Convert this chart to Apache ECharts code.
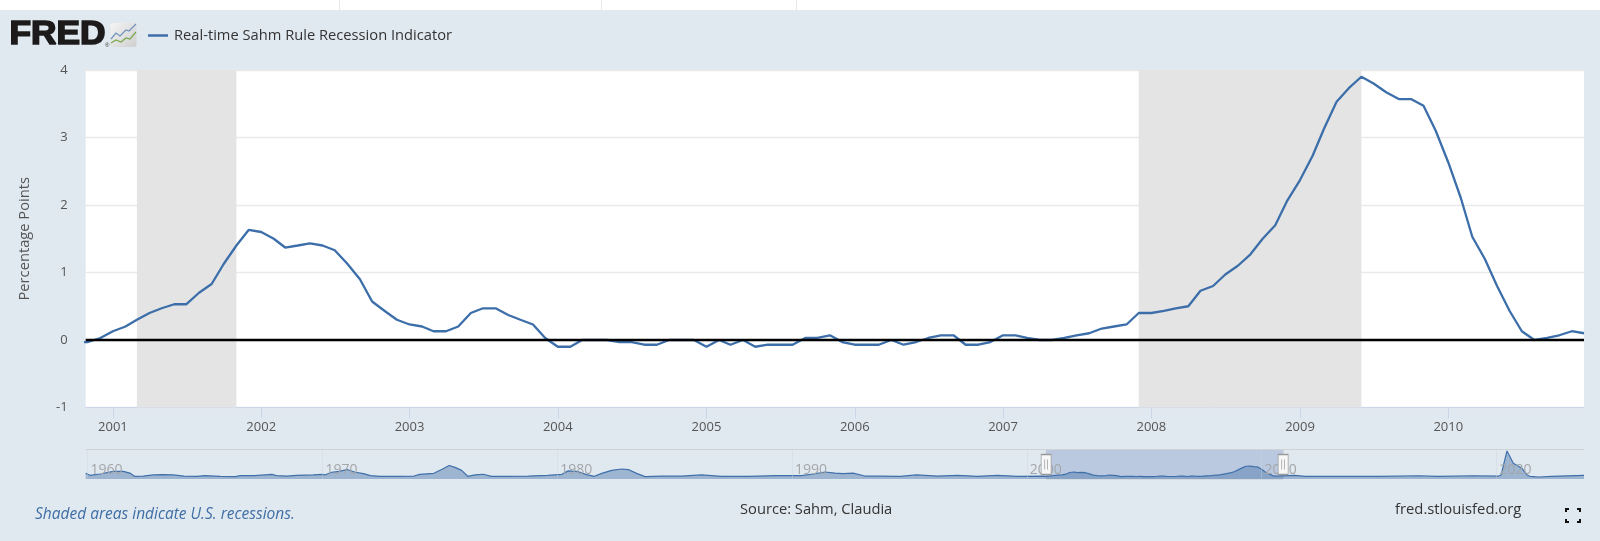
<!DOCTYPE html>
<html><head><meta charset="utf-8">
<script src="https://cdn.jsdelivr.net/npm/echarts@6/dist/echarts.min.js"></script>
<style>html,body{margin:0;padding:0;background:#e1e9f0}#c{width:1600px;height:541px}</style>
</head><body><div id="c"></div>
<script>
const seriesName = 'Real-time Sahm Rule Recession Indicator';
const tickYears = [2001,2002,2003,2004,2005,2006,2007,2008,2009,2010];
const navTickYears = [1960,1970,1980,1990,2000,2010,2020];
const recessions = [[[2001,2],[2001,10]],[[2007,11],[2009,5]]];
const v2000 = [-0.03,-0.03,0.03];
const v2001 = [0.13,0.2,0.3,0.4,0.47,0.53,0.53,0.7,0.83,1.13,1.4,1.63];
const v2002 = [1.6,1.5,1.37,1.4,1.43,1.4,1.33,1.13,0.9,0.57,0.43,0.3];
const v2003 = [0.23,0.2,0.13,0.13,0.2,0.4,0.47,0.47,0.37,0.3,0.23,0.03];
const v2004 = [-0.1,-0.1,0,0,0,-0.03,-0.03,-0.07,-0.07,0,0,0];
const v2005 = [-0.1,0,-0.07,0,-0.1,-0.07,-0.07,-0.07,0.03,0.03,0.07,-0.03];
const v2006 = [-0.07,-0.07,-0.07,0,-0.07,-0.03,0.03,0.07,0.07,-0.07,-0.07,-0.03];
const v2007 = [0.07,0.07,0.03,0,0,0.03,0.07,0.1,0.17,0.2,0.23,0.4];
const v2008 = [0.4,0.43,0.47,0.5,0.73,0.8,0.97,1.1,1.27,1.5,1.7,2.07];
const v2009 = [2.37,2.73,3.13,3.53,3.73,3.9,3.8,3.67,3.57,3.57,3.47,3.1];
const v2010 = [2.63,2.1,1.53,1.2,0.8,0.43,0.13,0,0.03,0.07,0.13,0.1];
const navBeforeYears = [1959.92,1960.1,1960.53,1961.1,1961.52,1961.8,1962,1962.37,1962.8,1963.2,1963.65,1964.1,1964.65,1965,1965.65,1966.3,1966.5,1967.1,1967.85,1968.05,1968.5,1968.9,1969.6,1970,1970.1,1970.4,1970.7,1971.05,1971.4,1971.75,1972.05,1972.45,1973.15,1973.9,1974.15,1974.75,1975.1,1975.4,1975.65,1975.93,1976.19,1976.5,1976.85,1977.2,1977.9,1978.77,1979.6,1980.2,1980.47,1980.9,1981.25,1981.58,1981.9,1982.32,1982.75,1983.03,1983.38,1983.74,1984.45,1985.3,1986.15,1987,1988.15,1989.3,1990.4,1990.9,1991.4,1991.83,1992.18,1992.6,1993.1,1993.75,1994.6,1995.3,1996.2,1997.05,1997.9,1998.75,1999.6,2000.7];
const navBeforeValues = [1.1,0.37,0.86,1.85,1.85,1.2,0,0.1,0.5,0.6,0.5,0.1,0,0.25,0,-0.1,0.25,0.25,0.7,0.25,0.1,0.35,0.5,0.7,0.5,1.5,1.85,2.5,1.5,1,0.25,0,0,0.1,0.7,1.1,2.6,4,3.3,2.2,0,0.5,0.75,0,0,0.1,0.35,0.75,2,1.7,0.6,0,1.1,2.2,2.7,2.5,1.1,-0.1,0.1,0.1,0.5,0,0,0.25,0.25,0.85,1.6,1.2,1,1.2,0.1,0.1,0,0.5,0.1,0.35,0,0.35,0,0.1];
const navAfterYears = [2011.42,2011.85,2013.3,2015,2016.7,2017.5,2019,2020.1,2020.2,2020.45,2020.72,2021.08,2021.3,2021.43,2021.8,2022.35,2023.73];
const navAfterValues = [0.35,0,0,0,0.2,0,0.2,0.1,0.5,9.4,4.8,3,0.5,0,-0.25,0,0.35];

const mainValues = [].concat(v2000,v2001,v2002,v2003,v2004,v2005,v2006,v2007,v2008,v2009,v2010);
const mainData = mainValues.map((v,i)=>[Date.UTC(2000,9+i,1),v]);
const navData = navBeforeYears.map((y,i)=>[y,navBeforeValues[i]])
  .concat(mainValues.slice(1).map((v,i)=>[2000+(10+i)/12,v]))
  .concat(navAfterYears.map((y,i)=>[y,navAfterValues[i]]));
const tickDates = tickYears.map(y=>Date.UTC(y,0,1));
const selStart = 2000+10/12-0.01, selEnd = 2010+11/12;
const FONT = '"Open Sans", sans-serif';
const handle = 'path://M0 0H10V20H0Z M3.6 5V15 M6.4 5V15';

const chart = echarts.init(document.getElementById('c'),null,{renderer:'canvas'});
chart.setOption({
  animation:false,
  backgroundColor:'#e1e9f0',
  textStyle:{fontFamily:FONT},
  legend:{left:143,top:23,icon:'rect',itemWidth:20,itemHeight:2.5,itemGap:0,data:[seriesName],
    itemStyle:{color:'#3c6ea9'},
    textStyle:{color:'#333',fontSize:14.7,fontFamily:FONT,padding:[0,0,0,1]}},
  grid:[
    {left:85.7,right:16,top:70,height:337.5,show:true,backgroundColor:'#fff',borderWidth:0},
    {left:85.7,right:16,top:449.5,height:29.5,show:false}
  ],
  xAxis:[
    {type:'value',gridIndex:0,min:Date.UTC(2000,9,26),max:Date.UTC(2010,11,1),scale:true,
      axisLine:{onZero:false,lineStyle:{color:'#ccd6eb',width:1}},
      axisTick:{show:true,length:11,customValues:tickDates,lineStyle:{color:'#ccd6eb'}},
      axisLabel:{customValues:tickDates,color:'#555',fontSize:13,margin:13,fontFamily:FONT,
        formatter:v=>String(new Date(v).getUTCFullYear())},
      splitLine:{show:false}},
    {type:'value',gridIndex:1,position:'top',min:1959.92,max:2023.73,scale:true,z:4,
      axisLine:{onZero:false,lineStyle:{color:'#cfd3d6',width:1}},
      axisTick:{show:true,inside:true,length:29,customValues:navTickYears,lineStyle:{color:'rgba(205,210,218,0.4)'}},
      axisLabel:{inside:true,customValues:navTickYears,color:'#a3a6a9',fontSize:14,margin:14,align:'left',
        padding:[0,0,0,3],fontFamily:FONT,formatter:v=>String(v)},
      splitLine:{show:false}}
  ],
  yAxis:[
    {type:'value',gridIndex:0,min:-1,max:4,interval:1,
      name:'Percentage Points',nameLocation:'middle',nameRotate:90,nameGap:53,
      nameTextStyle:{color:'#555',fontSize:14.7,fontFamily:FONT},
      axisLine:{show:false},axisTick:{show:false},
      axisLabel:{color:'#555',fontSize:13,margin:18,fontFamily:FONT},
      splitLine:{show:true,lineStyle:{color:'#e9e9e9',width:1.3}}},
    {type:'value',gridIndex:1,min:-1,max:9.93,show:false,splitLine:{show:false}}
  ],
  series:[
    {name:seriesName,type:'line',xAxisIndex:0,yAxisIndex:0,data:mainData,showSymbol:false,z:3,
      lineStyle:{color:'#3c6ea9',width:2.3},itemStyle:{color:'#3c6ea9'},clip:true,
      markArea:{silent:true,itemStyle:{color:'#e4e4e4'},
        data:recessions.map(r=>[{xAxis:Date.UTC(r[0][0],r[0][1],1)},{xAxis:Date.UTC(r[1][0],r[1][1],1)}])}},
    {name:'zero',type:'line',xAxisIndex:0,yAxisIndex:0,data:[],z:5,
      markLine:{silent:true,symbol:'none',label:{show:false},animation:false,
        lineStyle:{color:'#000',width:2.4,type:'solid'},data:[{yAxis:0}]}},
    {name:'navigator',type:'line',xAxisIndex:1,yAxisIndex:1,data:navData,showSymbol:false,z:3,
      lineStyle:{color:'#3f70aa',width:1.2},itemStyle:{color:'#3f70aa'},
      areaStyle:{color:'rgba(69,114,167,0.62)',origin:'start'},
      markArea:{silent:true,itemStyle:{color:'#bac9e0',borderColor:'#c6ccd4',borderWidth:1},
        data:[[{xAxis:selStart},{xAxis:selEnd}]]},
      markPoint:{silent:true,z:6,symbol:handle,symbolSize:[10,20],symbolKeepAspect:false,
        itemStyle:{color:'#f7f7f7',borderColor:'#999',borderWidth:1},label:{show:false},
        data:[{coord:[selStart,4.4]},{coord:[selEnd,4.4]}]}}
  ],
  graphic:[
    {type:'rect',shape:{x:0,y:0,width:1600,height:10},style:{fill:'#fff'},silent:true},
    {type:'line',shape:{x1:339.5,y1:0,x2:339.5,y2:10},style:{stroke:'#e6e6e6',lineWidth:1},silent:true},
    {type:'line',shape:{x1:601.5,y1:0,x2:601.5,y2:10},style:{stroke:'#e6e6e6',lineWidth:1},silent:true},
    {type:'line',shape:{x1:796.5,y1:0,x2:796.5,y2:10},style:{stroke:'#e6e6e6',lineWidth:1},silent:true},
    {type:'text',x:9.5,y:34.5,scaleX:1.07,style:{text:'FRED',font:'900 33px "Liberation Sans"',fill:'#1c1a1a',stroke:'#1c1a1a',lineWidth:1.6,textVerticalAlign:'middle',textAlign:'left'},silent:true},
    {type:'text',x:105,y:45,style:{text:'®',font:'6px "Liberation Sans"',fill:'#333',textVerticalAlign:'middle'},silent:true},
    {type:'rect',shape:{x:110.5,y:23,width:26,height:24,r:2},
      style:{fill:new echarts.graphic.LinearGradient(0,0,1,1,[{offset:0,color:'#f4f4f4'},{offset:1,color:'#cfcfcf'}])},silent:true},
    {type:'polyline',shape:{points:[[111,39],[116,33],[120,36],[126,30],[129,31],[136,24]]},style:{stroke:'#6f93bd',lineWidth:1.2,fill:null},silent:true},
    {type:'polyline',shape:{points:[[111,43],[116,40],[121,42],[126,38],[130,39],[136,32]]},style:{stroke:'#79a84f',lineWidth:1.2,fill:null},silent:true},
    {type:'text',x:35,y:515,style:{text:'Shaded areas indicate U.S. recessions.',font:'italic 15.5px "Open Sans"',fill:'#3f6ea5',textVerticalAlign:'middle'},silent:true},
    {type:'text',x:740,y:510,style:{text:'Source: Sahm, Claudia',font:'14.7px "Open Sans"',fill:'#333',textVerticalAlign:'middle'},silent:true},
    {type:'text',x:1395,y:510,style:{text:'fred.stlouisfed.org',font:'14.8px "Open Sans"',fill:'#333',textVerticalAlign:'middle'},silent:true},
    {type:'polyline',shape:{points:[[1566,512],[1566,509],[1569,509]]},style:{stroke:'#111',lineWidth:2,fill:null},silent:true},
    {type:'polyline',shape:{points:[[1577,509],[1580,509],[1580,512]]},style:{stroke:'#111',lineWidth:2,fill:null},silent:true},
    {type:'polyline',shape:{points:[[1566,519],[1566,522],[1569,522]]},style:{stroke:'#111',lineWidth:2,fill:null},silent:true},
    {type:'polyline',shape:{points:[[1577,522],[1580,522],[1580,519]]},style:{stroke:'#111',lineWidth:2,fill:null},silent:true}
  ]
});
</script></body></html>
